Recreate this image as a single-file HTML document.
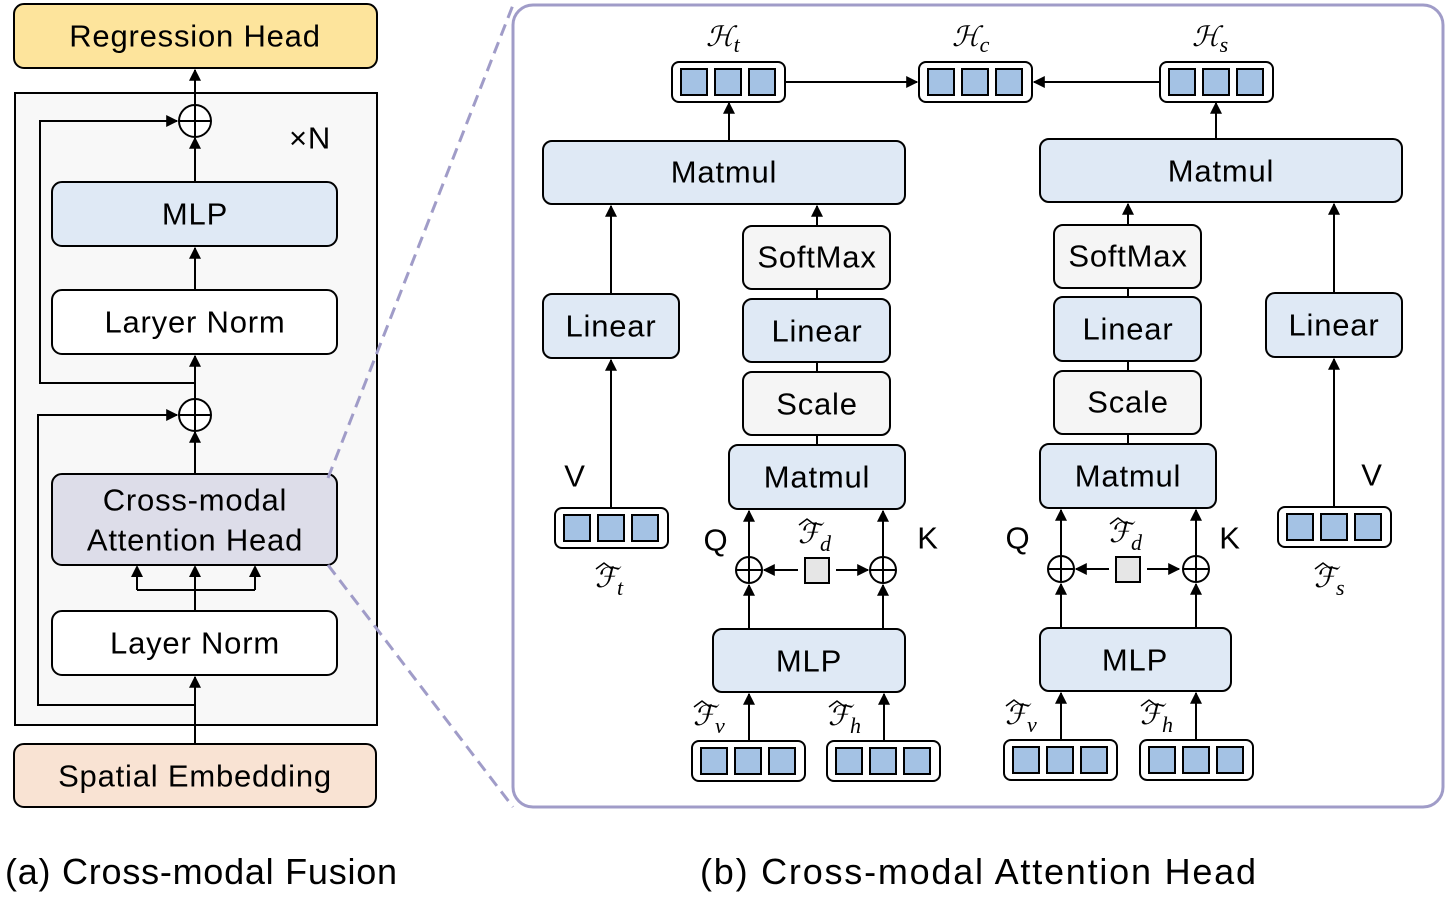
<!DOCTYPE html>
<html><head><meta charset="utf-8"><style>
html,body{margin:0;padding:0;background:#fff;width:1448px;height:901px;overflow:hidden}
text{font-family:"Liberation Sans",sans-serif;fill:#000}
.b{font-size:31px;text-anchor:middle;dominant-baseline:central;letter-spacing:0.8px}
.m{font-family:"Liberation Serif","DejaVu Serif",serif;font-style:italic}
</style></head><body>
<svg width="1448" height="901" viewBox="0 0 1448 901" xmlns="http://www.w3.org/2000/svg">
<defs>
<marker id="a" viewBox="0 0 10 10" refX="9" refY="5" markerWidth="6" markerHeight="6" orient="auto"><path d="M0,0L10,5L0,10z" fill="#000"/></marker>
<g id="vec"><rect x="0" y="0" width="113" height="40" rx="7" fill="#fff" stroke="#000" stroke-width="2"/><rect x="9" y="7" width="26" height="26" fill="#a4c2e4" stroke="#000" stroke-width="2"/><rect x="43" y="7" width="26" height="26" fill="#a4c2e4" stroke="#000" stroke-width="2"/><rect x="77" y="7" width="26" height="26" fill="#a4c2e4" stroke="#000" stroke-width="2"/></g>
<g id="plus"><circle r="13" fill="#fff" stroke="#000" stroke-width="2"/><path d="M-13,0H13M0,-13V13" stroke="#000" stroke-width="2"/></g>
<g id="plusL"><circle r="16" fill="#fff" stroke="#000" stroke-width="2"/><path d="M-16,0H16M0,-16V16" stroke="#000" stroke-width="2"/></g>
</defs>
<g stroke="#000" stroke-width="2" fill="none">
<rect x="14" y="4" width="363" height="64" rx="10" fill="#fde49c"/>
<rect x="15" y="93" width="362" height="632" fill="#f8f8f8"/>
<rect x="52" y="182" width="285" height="64" rx="10" fill="#dfe9f5"/>
<rect x="52" y="290" width="285" height="64" rx="10" fill="#fff"/>
<rect x="52" y="474" width="285" height="91" rx="10" fill="#dddde9"/>
<rect x="52" y="611" width="285" height="64" rx="10" fill="#fff"/>
<rect x="14" y="744" width="362" height="63" rx="10" fill="#f9e3d3"/>
<path d="M195,105V70" marker-end="url(#a)"/>
<path d="M195,182V138" marker-end="url(#a)"/>
<path d="M195,290V248" marker-end="url(#a)"/>
<path d="M195,399V356" marker-end="url(#a)"/>
<path d="M195,383H40V121H177" marker-end="url(#a)"/>
<path d="M195,474V432" marker-end="url(#a)"/>
<path d="M195,705H38V415H177" marker-end="url(#a)"/>
<path d="M195,744V677" marker-end="url(#a)"/>
<path d="M195,611V575M137,590H255M137,590V575M255,590V575"/>
</g>
<path d="M131,577L137,565L143,577zM189,577L195,565L201,577zM249,577L255,565L261,577z" fill="#000"/>
<use href="#plusL" x="195" y="121"/>
<use href="#plusL" x="195" y="415"/>
<text class="b" x="195" y="36">Regression Head</text>
<text class="b" x="195" y="214">MLP</text>
<text class="b" x="195" y="322">Laryer Norm</text>
<text class="b" x="195" y="500">Cross-modal</text>
<text class="b" x="195" y="540">Attention Head</text>
<text class="b" x="195" y="643">Layer Norm</text>
<text class="b" x="195" y="776">Spatial Embedding</text>
<text class="b" x="310" y="138">×N</text>
<path d="M328,478L513,5M328,565L513,807" stroke="#a09cc8" stroke-width="3" stroke-dasharray="12,7" fill="none"/>
<rect x="513" y="5" width="930" height="802" rx="20" fill="#fff" stroke="#a09cc8" stroke-width="3"/>
<g stroke="#000" stroke-width="2">
<rect x="543" y="141" width="362" height="63" rx="9" fill="#dfe9f5"/>
<rect x="543" y="294" width="136" height="64" rx="9" fill="#dfe9f5"/>
<rect x="743" y="226" width="147" height="63" rx="9" fill="#f5f5f5"/>
<rect x="743" y="299" width="147" height="63" rx="9" fill="#dfe9f5"/>
<rect x="743" y="372" width="147" height="63" rx="9" fill="#f5f5f5"/>
<rect x="729" y="445" width="176" height="64" rx="9" fill="#dfe9f5"/>
<rect x="713" y="629" width="192" height="63" rx="9" fill="#dfe9f5"/>
<rect x="805" y="558" width="24" height="25" fill="#e6e6e6"/>
<rect x="1040" y="139" width="362" height="63" rx="9" fill="#dfe9f5"/>
<rect x="1266" y="293" width="136" height="64" rx="9" fill="#dfe9f5"/>
<rect x="1054" y="225" width="147" height="63" rx="9" fill="#f5f5f5"/>
<rect x="1054" y="297" width="147" height="64" rx="9" fill="#dfe9f5"/>
<rect x="1054" y="371" width="147" height="63" rx="9" fill="#f5f5f5"/>
<rect x="1040" y="444" width="176" height="64" rx="9" fill="#dfe9f5"/>
<rect x="1040" y="628" width="191" height="63" rx="9" fill="#dfe9f5"/>
<rect x="1116" y="557" width="24" height="25" fill="#e6e6e6"/>
</g>
<use href="#vec" x="672" y="62"/><use href="#vec" x="919" y="62"/><use href="#vec" x="1160" y="62"/>
<use href="#vec" x="555" y="508"/><use href="#vec" x="1278" y="507"/>
<use href="#vec" x="692" y="741"/><use href="#vec" x="827" y="741"/>
<use href="#vec" x="1004" y="740"/><use href="#vec" x="1140" y="740"/>
<g stroke="#000" stroke-width="2" fill="none">
<path d="M785,82H917" marker-end="url(#a)"/>
<path d="M1160,82H1034" marker-end="url(#a)"/>
<path d="M729,141V103" marker-end="url(#a)"/>
<path d="M1216,139V103" marker-end="url(#a)"/>
<path d="M611,294V206" marker-end="url(#a)"/>
<path d="M611,508V360" marker-end="url(#a)"/>
<path d="M817,226V206" marker-end="url(#a)"/>
<path d="M817,289V299M817,362V372M817,435V445"/>
<path d="M749,557V511" marker-end="url(#a)"/>
<path d="M883,557V511" marker-end="url(#a)"/>
<path d="M749,629V585" marker-end="url(#a)"/>
<path d="M883,629V585" marker-end="url(#a)"/>
<path d="M749,741V694" marker-end="url(#a)"/>
<path d="M884,741V694" marker-end="url(#a)"/>
<path d="M798,570H764" marker-end="url(#a)"/>
<path d="M836,570H868" marker-end="url(#a)"/>
<path d="M1334,293V204" marker-end="url(#a)"/>
<path d="M1334,507V359" marker-end="url(#a)"/>
<path d="M1128,225V204" marker-end="url(#a)"/>
<path d="M1128,288V297M1128,361V371M1128,434V444"/>
<path d="M1061,556V510" marker-end="url(#a)"/>
<path d="M1196,556V510" marker-end="url(#a)"/>
<path d="M1061,628V584" marker-end="url(#a)"/>
<path d="M1196,628V584" marker-end="url(#a)"/>
<path d="M1061,740V693" marker-end="url(#a)"/>
<path d="M1196,740V693" marker-end="url(#a)"/>
<path d="M1109,569H1076" marker-end="url(#a)"/>
<path d="M1147,569H1179" marker-end="url(#a)"/>
</g>
<use href="#plus" x="749" y="570"/><use href="#plus" x="883" y="570"/>
<use href="#plus" x="1061" y="569"/><use href="#plus" x="1196" y="569"/>
<text class="b" x="724" y="172">Matmul</text>
<text class="b" x="611" y="326">Linear</text>
<text class="b" x="817" y="257">SoftMax</text>
<text class="b" x="817" y="331">Linear</text>
<text class="b" x="817" y="404">Scale</text>
<text class="b" x="817" y="477">Matmul</text>
<text class="b" x="809" y="661">MLP</text>
<text class="b" x="1221" y="171">Matmul</text>
<text class="b" x="1334" y="325">Linear</text>
<text class="b" x="1128" y="256">SoftMax</text>
<text class="b" x="1128" y="329">Linear</text>
<text class="b" x="1128" y="402">Scale</text>
<text class="b" x="1128" y="476">Matmul</text>
<text class="b" x="1135" y="660">MLP</text>
<text class="b" x="575" y="476">V</text>
<text class="b" x="1372" y="475">V</text>
<text class="b" x="716" y="540">Q</text>
<text class="b" x="928" y="538">K</text>
<text class="b" x="1018" y="538">Q</text>
<text class="b" x="1230" y="538">K</text>
<g font-size="28" class="m">
<text class="m" x="706" y="46">ℋ<tspan font-size="22" dy="6">t</tspan></text>
<text class="m" x="952" y="46">ℋ<tspan font-size="22" dy="6">c</tspan></text>
<text class="m" x="1192" y="46">ℋ<tspan font-size="22" dy="6">s</tspan></text>
<text class="m" x="595" y="587">ℱ<tspan font-size="22" dy="8">t</tspan></text>
<text class="m" x="1314" y="587">ℱ<tspan font-size="22" dy="8">s</tspan></text>
<text class="m" x="798" y="543">ℱ<tspan font-size="22" dy="8">d</tspan></text>
<text class="m" x="1109" y="542">ℱ<tspan font-size="22" dy="8">d</tspan></text>
<text class="m" x="693" y="725">ℱ<tspan font-size="22" dy="8">v</tspan></text>
<text class="m" x="828" y="725">ℱ<tspan font-size="22" dy="8">h</tspan></text>
<text class="m" x="1005" y="724">ℱ<tspan font-size="22" dy="8">v</tspan></text>
<text class="m" x="1140" y="724">ℱ<tspan font-size="22" dy="8">h</tspan></text>
</g>
<g stroke="#000" stroke-width="1.5" fill="none">
<path d="M596,569l8,-6l8,6"/><path d="M1315,569l8,-6l8,6"/>
<path d="M799,525l8,-6l8,6"/><path d="M1110,524l8,-6l8,6"/>
<path d="M694,707l8,-6l8,6"/><path d="M829,707l8,-6l8,6"/>
<path d="M1006,706l8,-6l8,6"/><path d="M1141,706l8,-6l8,6"/>
</g>
<text x="5" y="884" font-size="36" textLength="392" lengthAdjust="spacing">(a) Cross-modal Fusion</text>
<text x="700" y="884" font-size="36" textLength="556" lengthAdjust="spacing">(b) Cross-modal Attention Head</text>
</svg>
</body></html>
